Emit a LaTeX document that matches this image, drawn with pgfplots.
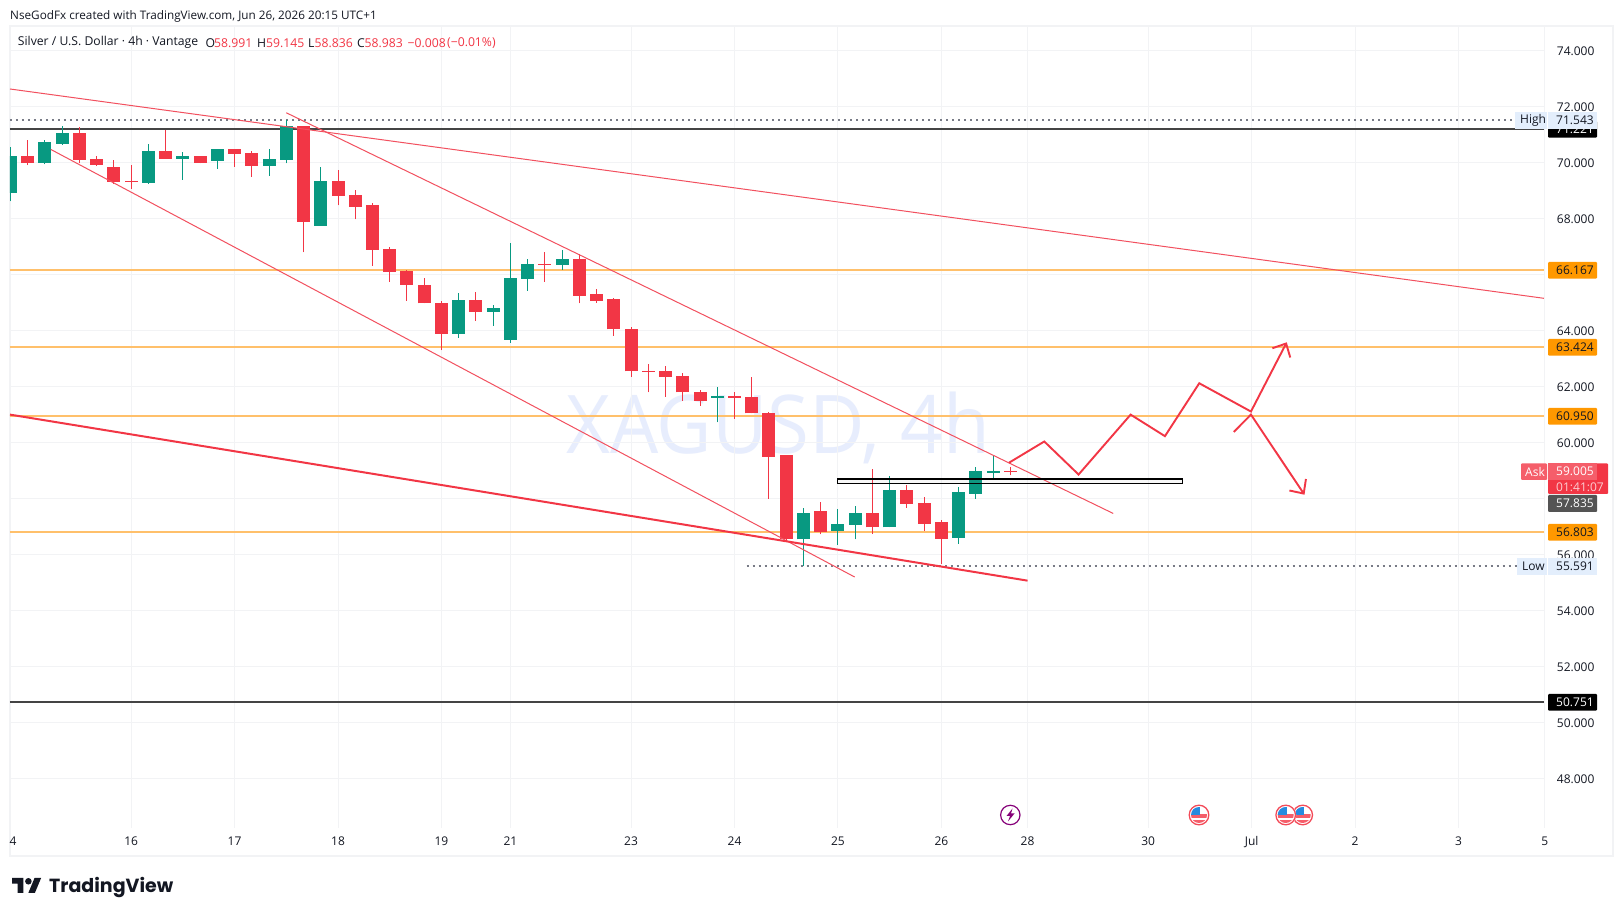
\documentclass[border=0pt]{standalone}
\usepackage{fontspec}
\usepackage{pgfplots}
\usepackage{pgfplotstable}
\pgfplotsset{compat=1.18}
\setmainfont{Open Sans}
\newfontfamily\logofont{Poppins}
\definecolor{tvred}{HTML}{F23645}
\definecolor{tvgreen}{HTML}{089981}
\definecolor{tvgrid}{HTML}{F2F3F5}
\definecolor{tvtext}{HTML}{131722}
\definecolor{tvorange}{HTML}{FFC06B}
\definecolor{tvbadge}{HTML}{FF9800}
\definecolor{tvthin}{HTML}{F2505F}
\definecolor{tvblack}{HTML}{444444}
\definecolor{tvlight}{HTML}{E3EEFC}
\definecolor{tvwm}{HTML}{E7EDFD}
\definecolor{tvdots}{HTML}{787B86}
\pgfplotstableread{
i bl bh l h
-7 68.92 70.26 68.63 70.58
-5 70.01 70.73 69.95 70.83
-4 70.69 71.08 70.65 71.33
1 69.30 70.44 69.26 70.69
3 70.15 70.26 69.40 70.40
5 70.08 70.48 69.80 70.51
8 69.90 70.15 69.55 70.48
9 70.12 71.33 69.98 71.55
11 67.76 69.37 67.76 69.87
19 63.90 65.12 63.76 65.37
21 64.69 64.83 64.19 64.94
22 63.69 65.90 63.58 67.15
23 65.87 66.40 65.44 66.58
25 66.37 66.55 66.19 66.90
34 61.62 61.69 60.73 62.01
39 56.55 57.48 55.591 57.69
41 56.87 57.12 56.37 57.65
42 57.08 57.48 56.55 57.73
44 56.98 58.33 56.98 58.83
48 56.62 58.23 56.40 58.44
49 58.19 58.98 58.01 59.15
50 58.94 59.01 58.76 59.58
}\greentable
\pgfplotstableread{
i bl bh l h
-6 70.01 70.26 69.92 70.83
-3 70.12 71.08 69.98 71.30
-2 69.94 70.15 69.90 70.26
-1 69.33 69.87 69.26 70.12
0 69.33 69.37 69.08 69.94
2 70.15 70.44 70.15 71.19
4 70.01 70.26 69.98 70.26
6 70.33 70.48 69.87 70.51
7 69.90 70.37 69.51 70.44
10 67.90 71.33 66.80 71.33
12 68.83 69.37 68.48 69.73
13 68.44 68.87 67.98 69.05
14 66.90 68.48 66.33 68.55
15 66.12 66.94 65.76 67.01
16 65.65 66.15 65.08 66.19
17 64.98 65.65 64.98 65.90
18 63.90 65.01 63.30 65.05
20 64.69 65.12 64.37 65.40
24 66.37 66.40 65.76 66.83
26 65.26 66.55 64.98 66.73
27 65.08 65.30 65.01 65.51
28 64.05 65.15 63.83 65.19
29 62.55 64.08 62.37 64.15
30 62.55 62.58 61.80 62.80
31 62.37 62.55 61.65 62.73
32 61.80 62.40 61.51 62.51
33 61.51 61.83 61.33 61.90
35 61.62 61.69 60.87 61.83
36 61.05 61.65 61.05 62.37
37 59.51 61.08 58.01 61.12
38 56.55 59.55 56.51 59.58
40 56.83 57.55 56.73 57.90
43 56.98 57.48 56.76 59.05
45 57.83 58.33 57.69 58.48
46 57.12 57.87 56.87 58.05
47 56.58 57.19 55.69 57.26
51 58.983 58.991 58.836 59.145
}\redtable
\newcommand\candles[2]{%
  \addplot[forget plot, draw=#2, line width=1pt, quiver={u=0,v=\thisrow{h}-\thisrow{l}}] table[x=i,y=l] {#1};
  \addplot[forget plot, draw=#2, line width=13pt, quiver={u=0,v=\thisrow{bh}-\thisrow{bl}}] table[x=i,y=bl] {#1};
}
\newcommand\flagicon[1]{%
  \begin{scope}
    \fill[white] (#1,815) circle (10.5);
    \begin{scope}
      \clip (#1,815) circle (8);
      \fill[white] (#1-9,806) rectangle (#1+9,824);
      \fill[tvred!80] (#1-9,814) rectangle (#1+9,818);
      \fill[tvred!80] (#1-9,820.5) rectangle (#1+9,824);
      \fill[blue!45!cyan!85!black!85] (#1-9,806) rectangle (#1+1,815.5);
    \end{scope}
    \draw[tvred!90,line width=1.3pt] (#1,815) circle (9.8);
  \end{scope}}
\begin{document}
\begin{tikzpicture}
\fill[white] (0,0) rectangle (1623pt,916pt);
\path[use as bounding box] (0,0) rectangle (1623pt,916pt);
\begin{scope}[shift={(0pt,916pt)},x=1pt,y=-1pt]
  \draw[tvgrid,line width=2pt] (9.5,26) rectangle (1613,856.5);
  \node[anchor=base west,inner sep=0pt,text=tvwm,font=\fontsize{81}{90}\selectfont,transform shape,xscale=.94] at (566,454) {XAGUSD, 4h};
\end{scope}
\begin{axis}[
  at={(10pt,88.4pt)}, anchor=south west,
  scale only axis, width=1534.7pt, height=802pt,
  xmin=-7.03, xmax=82, ymin=46.26, ymax=74.904,
  axis line style={draw=none},
  major tick length=0pt,
  ytick={48,50,...,74}, ytick pos=right,
  yticklabels={48.000,50.000,52.000,54.000,56.000,{},60.000,62.000,64.000,{},68.000,70.000,72.000,74.000},
  xtick={-7,0,6,12,18,22,29,35,41,47,52,59,65,71,77,82},
  xticklabels={\hspace*{5pt}4,16,17,18,19,21,23,24,25,26,28,30,Jul,2,3,5},
  xmajorgrids, ymajorgrids,
  grid style={tvgrid,line width=1pt},
  tick label style={text=tvtext,font=\fontsize{12}{14}\selectfont},
  xticklabel style={inner sep=0pt,anchor=base,yshift=-18pt},
  yticklabel style={anchor=west,inner sep=0pt,xshift=12pt},
  clip=true,
]
% levels
\addplot[forget plot,tvorange,line width=2pt] coordinates {(-7.03,66.167)(82,66.167)};
\addplot[forget plot,tvorange,line width=2pt] coordinates {(-7.03,63.424)(82,63.424)};
\addplot[forget plot,tvorange,line width=2pt] coordinates {(-7.03,60.950)(82,60.950)};
\addplot[forget plot,tvorange,line width=2pt] coordinates {(-7.03,56.803)(82,56.803)};
\addplot[forget plot,tvblack,line width=2pt] coordinates {(-7.03,71.221)(82,71.221)};
\addplot[forget plot,tvblack,line width=2pt] coordinates {(-7.03,50.751)(82,50.751)};
\addplot[forget plot,tvdots,line width=2pt,dash pattern=on 2pt off 4pt] coordinates {(-7.03,71.543)(80.3,71.543)};
\addplot[forget plot,tvdots,line width=2pt,dash pattern=on 2pt off 4pt] coordinates {(35.7,55.591)(80.4,55.591)};
% candles
\candles{\greentable}{tvgreen}
\candles{\redtable}{tvred}
% trend lines
\addplot[forget plot,tvthin,line width=1pt] coordinates {(-7.03,72.64)(82,65.16)};
\addplot[forget plot,tvthin,line width=1pt] coordinates {(9,71.79)(56.97,57.48)};
\addplot[forget plot,tvthin,line width=1pt] coordinates {(-4.66,70.48)(41.97,55.21)};
\addplot[forget plot,tvred,line width=2pt] coordinates {(-7.03,61.01)(52,55.08)};
% box
\addplot[forget plot,black,line width=1.1pt,fill=gray,fill opacity=0.06] coordinates {(41,58.71)(60.98,58.71)(60.98,58.54)(41,58.54)} -- cycle;
% zig-zag and arrows
\addplot[forget plot,tvred,line width=1.9pt] coordinates {(50.92,59.29)(52.97,60.05)(54.96,58.87)(57.98,61.01)(59.97,60.24)(61.96,62.13)(64.96,61.12)(67.0,63.55)};
\addplot[forget plot,tvred,line width=1.9pt] coordinates {(66.2,63.38)(67.0,63.55)(67.24,63.05)};
\addplot[forget plot,tvred,line width=1.9pt] coordinates {(63.96,60.39)(64.96,61.01)(68.02,58.19)};
\addplot[forget plot,tvred,line width=1.9pt] coordinates {(67.19,58.30)(68.02,58.19)(68.15,58.71)};
\end{axis}
\begin{scope}[shift={(0pt,916pt)},x=1pt,y=-1pt,every node/.style={inner sep=0pt,font=\fontsize{12}{14}\selectfont,text=tvtext}]
  \draw[tvgrid,line width=1pt] (1544.7,26) -- (1544.7,828);
  % header
  \node[anchor=west,font=\fontsize{11.73}{14}\selectfont] at (10,16.2) {NseGodFx created with TradingView.com, Jun 26, 2026 20:15 UTC+1};
  \begin{scope}[every node/.append style={font=\fontsize{12.2}{14}\selectfont}]
  \node[anchor=west] at (17.7,42.7) {Silver / U.S. Dollar · 4h · Vantage};
  \node[anchor=west] at (205.5,42.7) {O};
  \node[anchor=west,text=tvred] at (214,42.7) {58.991};
  \node[anchor=west] at (257,42.7) {H};
  \node[anchor=west,text=tvred] at (266,42.7) {59.145};
  \node[anchor=west] at (308,42.7) {L};
  \node[anchor=west,text=tvred] at (314.5,42.7) {58.836};
  \node[anchor=west] at (357,42.7) {C};
  \node[anchor=west,text=tvred] at (364.5,42.7) {58.983};
  \node[anchor=west,text=tvred] at (407.4,42.7) {−0.008};
  \node[anchor=west,text=tvred] at (447,42.7) {(−0.01\%)};
  \end{scope}
  % price badges
  \fill[black,rounded corners=1pt] (1548,121) rectangle (1597,137.7);
  \node[anchor=west,text=white] at (1556,129.3) {71.221};
  \fill[tvlight] (1515,112) rectangle (1546.5,128.7);
  \fill[tvlight] (1548,112) rectangle (1597,128.7);
  \node[anchor=west] at (1520,120.3) {High};
  \node[anchor=west] at (1556,120.3) {71.543};
  \foreach \yy/\lab in {262/66.167,339/63.424,408/60.950,524/56.803}{
    \fill[tvbadge,rounded corners=1pt] (1548,\yy) rectangle (1597,\yy+16.7);
    \node[anchor=west] at (1556,\yy+8.35) {\lab};
  }
  \fill[black,rounded corners=1pt] (1548,694) rectangle (1597,710.7);
  \node[anchor=west,text=white] at (1556,702.35) {50.751};
  \fill[tvlight] (1517.3,558) rectangle (1546.5,574.7);
  \fill[tvlight] (1548,558) rectangle (1597,574.7);
  \node[anchor=west] at (1522,566.3) {Low};
  \node[anchor=west] at (1556,566.3) {55.591};
  \fill[tvred,rounded corners=1pt] (1548,463.3) rectangle (1608,494);
  \fill[tvred!80!white] (1548,463.3) rectangle (1597,480);
  \fill[tvred!80!white,rounded corners=1pt] (1521,463.3) rectangle (1547,480);
  \node[anchor=west,text=white] at (1525,471.7) {Ask};
  \node[anchor=west,text=white] at (1556,471.7) {59.005};
  \node[anchor=west,text=white!75!tvred] at (1556,487) {01:41:07};
  \fill[black!67,rounded corners=1pt] (1548,495) rectangle (1597,512);
  \node[anchor=west,text=white] at (1556,503.5) {57.835};
  % event icons
  \fill[white] (1010.3,815) circle (10.5);
  \draw[line width=1.2pt,draw=purple!70!blue] (1010.3,815) circle (9.7);
  \fill[purple!70!blue] (1012.5,808.5) -- (1006.5,816) -- (1010,816) -- (1008,821.5) -- (1014.5,813.5) -- (1011,813.5) -- cycle;
  \flagicon{1199}
  \flagicon{1302.7}
  \flagicon{1285.7}
  % logo
  \begin{scope}[shift={(12pt,-878pt)},x=.82pt,y=-.82pt]
    \fill[tvtext] (0,0) -- (14,0) -- (14,18) -- (7,18) -- (7,7) -- (0,7) -- cycle;
    \fill[tvtext] (27.5,0) -- (35.5,0) -- (28,18) -- (20,18) -- cycle;
    \fill[tvtext] (20,4) circle (4);
  \end{scope}
  \node[anchor=base west,text=tvtext,font=\fontsize{19}{24}\selectfont\logofont\bfseries] at (49,892.5) {TradingView};
\end{scope}
\end{tikzpicture}
\end{document}
